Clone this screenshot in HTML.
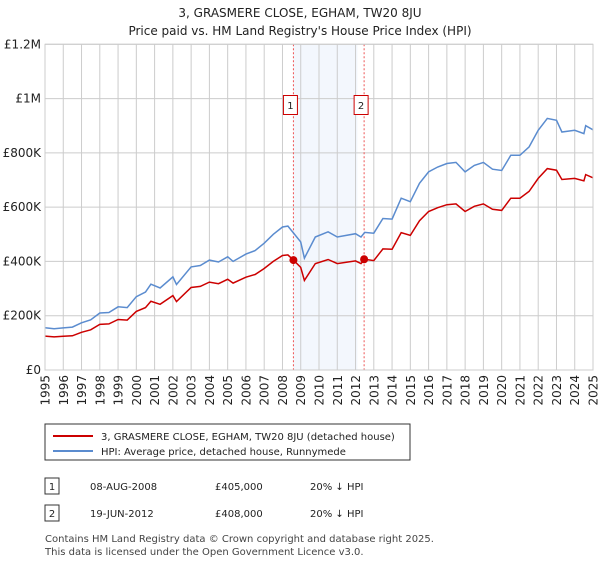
<!DOCTYPE html>
<html><head><meta charset="utf-8"><style>
body{margin:0;background:#fff;font-family:"Liberation Sans","DejaVu Sans",sans-serif;}
svg text{font-family:"DejaVu Sans","Liberation Sans",sans-serif;}
</style></head><body>
<svg width="600" height="560" xmlns="http://www.w3.org/2000/svg">
<text x="300" y="17" text-anchor="middle" font-size="12" fill="#222">3, GRASMERE CLOSE, EGHAM, TW20 8JU</text>
<text x="300" y="35" text-anchor="middle" font-size="12" fill="#222">Price paid vs. HM Land Registry's House Price Index (HPI)</text>
<g id="plot"></g>
<g>
<rect x="45" y="424" width="365" height="36" fill="#fff" stroke="#333" stroke-width="1"/>
<line x1="53" y1="436" x2="93" y2="436" stroke="#cc0000" stroke-width="2"/>
<text x="101" y="440" font-size="10" fill="#222">3, GRASMERE CLOSE, EGHAM, TW20 8JU (detached house)</text>
<line x1="53" y1="451" x2="93" y2="451" stroke="#5b8ccf" stroke-width="2"/>
<text x="101" y="455" font-size="10" fill="#222">HPI: Average price, detached house, Runnymede</text>
</g>
<g font-size="10" fill="#222">
<rect x="45" y="478" width="14" height="16" fill="#fff" stroke="#333"/><text x="52" y="490" text-anchor="middle">1</text>
<text x="90" y="490">08-AUG-2008</text><text x="215" y="490">£405,000</text><text x="310" y="490">20% ↓ HPI</text>
<rect x="45" y="505" width="14" height="16" fill="#fff" stroke="#333"/><text x="52" y="517" text-anchor="middle">2</text>
<text x="90" y="517">19-JUN-2012</text><text x="215" y="517">£408,000</text><text x="310" y="517">20% ↓ HPI</text>
</g>
<text x="45" y="542" font-size="10" fill="#444">Contains HM Land Registry data © Crown copyright and database right 2025.</text>
<text x="45" y="555" font-size="10" fill="#444">This data is licensed under the Open Government Licence v3.0.</text>
</svg>
<script>
const hpiYears=[1995,1995.5,1996,1996.5,1997,1997.5,1998,1998.5,1999,1999.5,2000,2000.5,2000.8,2001.3,2002,2002.2,2003,2003.5,2004,2004.5,2005,2005.3,2006,2006.5,2007,2007.5,2008,2008.3,2008.6,2009,2009.2,2009.8,2010.5,2011,2012,2012.3,2012.5,2013,2013.5,2014,2014.5,2015,2015.5,2016,2016.5,2017,2017.5,2018,2018.5,2019,2019.5,2020,2020.5,2021,2021.5,2022,2022.5,2023,2023.3,2024,2024.5,2024.6,2025];
const hpiValues=[156,152,155,158,174,185,210,212,233,230,270,287,316,302,343,315,380,385,405,398,417,400,427,440,467,500,527,530,505,472,412,490,509,490,502,490,507,504,558,556,633,620,688,730,748,761,765,730,754,765,740,735,791,791,822,883,927,920,877,883,871,900,885];
const ppValues=[125,122,124,126,139,148,168,170,186,184,216,230,253,242,274,252,304,308,324,318,334,320,342,352,374,400,422,424,405,378,330,392,407,392,402,392,408,403,446,445,506,496,550,584,598,609,612,584,603,612,592,588,633,633,658,706,742,736,702,706,697,720,708];
const sales=[{x:2008.6,v:405,label:"1"},{x:2012.47,v:408,label:"2"}];
const yTicks=[0,200,400,600,800,1000,1200];
const yTickLabels=["£0","£200K","£400K","£600K","£800K","£1M","£1.2M"];
const xTicks=[1995,1996,1997,1998,1999,2000,2001,2002,2003,2004,2005,2006,2007,2008,2009,2010,2011,2012,2013,2014,2015,2016,2017,2018,2019,2020,2021,2022,2023,2024,2025];
const X0=45,X1=593,Y0=370,Y1=44.3;
const xs=t=>X0+(t-1995)/30*(X1-X0);
const ys=v=>Y0-v/1200*(Y0-Y1);
const NS="http://www.w3.org/2000/svg";
const g=document.getElementById('plot');
function mk(tag,attrs,parent){const e=document.createElementNS(NS,tag);for(const k in attrs)e.setAttribute(k,attrs[k]);(parent||g).appendChild(e);return e;}
let sh=mk('rect',{x:xs(2008.6),y:Y1,width:xs(2012.1)-xs(2008.6),height:Y0-Y1,fill:'#eef3fc',opacity:0.7});


yTicks.forEach((v,i)=>{
 let l=mk('line',{x1:X0,x2:X1,y1:ys(v),y2:ys(v),stroke:'#cccccc','stroke-width':1});
 
 
 let t=mk('text',{x:X0-4,y:ys(v)+4,'text-anchor':'end','font-size':12,fill:'#222'});
 t.textContent=yTickLabels[i];
 
 
});
xTicks.forEach(y=>{
 let l=mk('line',{x1:xs(y),x2:xs(y),y1:Y1,y2:Y0,stroke:'#cccccc','stroke-width':1});
 
 
 let t=mk('text',{x:0,y:0,'text-anchor':'end','font-size':12,fill:'#222',transform:`translate(${xs(y)+4.5},375) rotate(-90)`});
 t.textContent=y;
 
 
});
sales.forEach(s=>{
 let l=mk('line',{x1:xs(s.x),x2:xs(s.x),y1:Y1,y2:Y0,stroke:'#ee5555','stroke-width':1,'stroke-dasharray':'2,2'});
 
 
});
function path(vals,color,name){
 let d=hpiYears.map((t,i)=>(i?'L':'M')+xs(t).toFixed(1)+','+ys(vals[i]).toFixed(1)).join('');
 let p=mk('path',{d:d,fill:'none',stroke:color,'stroke-width':1.5});
 
 
}
path(hpiValues,'#5b8ccf','hpi-line');
path(ppValues,'#cc0000','price-paid-line');
sales.forEach(s=>{
 let c=mk('circle',{cx:xs(s.x),cy:ys(s.v),r:4,fill:'#cc0000'});
 
 
 let r=mk('rect',{x:xs(s.x)-10,y:95.5,width:14,height:19,fill:'#fff',stroke:'#cc0000'});
 
 
 let t=mk('text',{x:xs(s.x)-3,y:109,'text-anchor':'middle','font-size':10,fill:'#222'});
 t.textContent=s.label;
 
 
});
mk('rect',{x:X0,y:Y1,width:X1-X0,height:Y0-Y1,fill:'none',stroke:'#cccccc'});
</script>
</body></html>
